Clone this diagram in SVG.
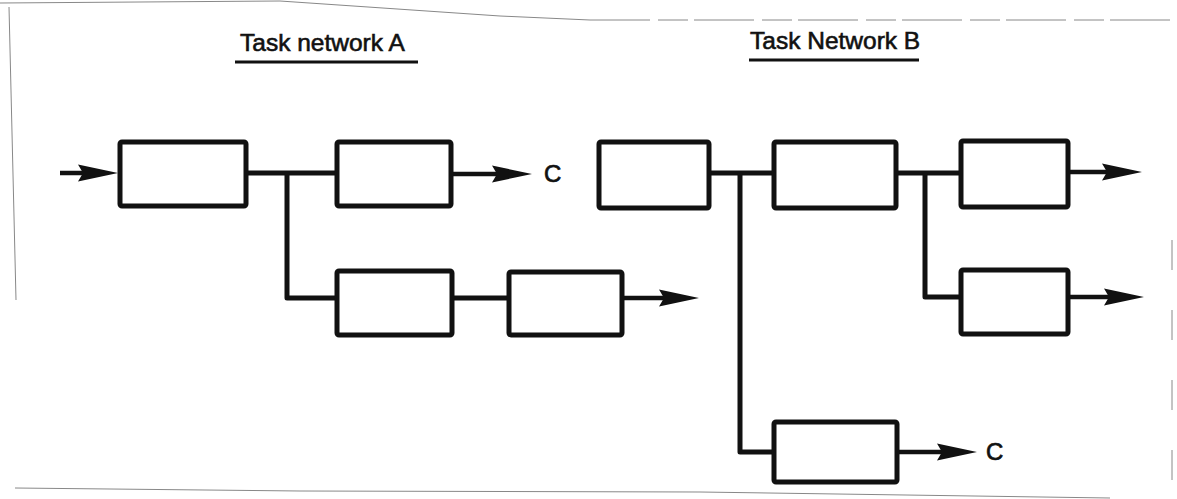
<svg xmlns="http://www.w3.org/2000/svg" width="1177" height="499" viewBox="0 0 1177 499">
<style>
.box{fill:#fff;stroke:#111;stroke-width:5;}
.conn{fill:none;stroke:#111;stroke-width:5;stroke-linejoin:round;}
.arr{fill:none;stroke:#111;stroke-width:4.5;marker-end:url(#ah);}
.frame{fill:none;stroke:#888;stroke-width:1;}
.title{font-family:"Liberation Sans",Arial,sans-serif;font-size:24.5px;fill:#111;stroke:#111;stroke-width:0.6;}
.lbl{font-family:"Liberation Sans",Arial,sans-serif;font-size:24px;fill:#111;stroke:#111;stroke-width:0.7;}
.ul{stroke:#111;stroke-width:3;}
</style>
<defs>
<marker id="ah" markerUnits="userSpaceOnUse" markerWidth="44" markerHeight="20" viewBox="0 -10 44 20" refX="15" refY="0" orient="auto" overflow="visible">
<path d="M0,-8.5 L40,0 L0,8.5 L5,0 Z" fill="#111"/>
</marker>
</defs>
<rect width="1177" height="499" fill="#fff"/>
<g id="frame">
<polyline class="frame" points="0,3 280,1 500,16 590,20"/>
<line class="frame" x1="590" y1="20" x2="1172" y2="20" stroke="#aaa" stroke-dasharray="60,8,30,6"/>
<line class="frame" x1="9" y1="7" x2="16" y2="300" stroke="#444"/>
<line class="frame" x1="1172" y1="240" x2="1172" y2="480" stroke-dasharray="30,40" stroke="#ddd"/>
<polyline class="frame" points="15,488 300,491 700,492 1110,498"/>
</g>
<g id="titles">
<text class="title" x="240" y="51">Task network A</text>
<line class="ul" x1="235" y1="62" x2="418" y2="62"/>
<text class="title" x="750" y="49">Task Network B</text>
<line class="ul" x1="749" y1="60" x2="919" y2="60"/>
</g>
<g id="connectors">
<line class="arr" x1="60" y1="173" x2="93" y2="173"/>
<line class="conn" x1="248" y1="173" x2="335" y2="173"/>
<path class="conn" d="M287,173 V298 H335"/>
<line class="conn" x1="454" y1="298" x2="507" y2="298"/>
<line class="arr" x1="624" y1="298" x2="674" y2="298"/>
<line class="arr" x1="453" y1="174" x2="507" y2="174"/>
<line class="conn" x1="711" y1="173" x2="772" y2="173"/>
<path class="conn" d="M740,173 V452 H772"/>
<line class="conn" x1="898" y1="173" x2="959" y2="173"/>
<path class="conn" d="M925,173 V297 H959"/>
<line class="arr" x1="1070" y1="172" x2="1117" y2="172"/>
<line class="arr" x1="1070" y1="297" x2="1119" y2="297"/>
<line class="arr" x1="899" y1="452" x2="952" y2="452"/>
</g>
<g id="A1"><rect class="box" x="120" y="142" width="126" height="64" rx="2"/></g>
<g id="A2"><rect class="box" x="337" y="142" width="114" height="64" rx="2"/></g>
<g id="A3"><rect class="box" x="337" y="271" width="115" height="64" rx="2"/></g>
<g id="A4"><rect class="box" x="509" y="272" width="113" height="63" rx="2"/></g>
<g id="B1"><rect class="box" x="599" y="142" width="110" height="66" rx="2"/></g>
<g id="B2"><rect class="box" x="774" y="142" width="122" height="66" rx="2"/></g>
<g id="B3"><rect class="box" x="961" y="141" width="107" height="66" rx="2"/></g>
<g id="B4"><rect class="box" x="961" y="270" width="107" height="64" rx="2"/></g>
<g id="B5"><rect class="box" x="774" y="422" width="123" height="60" rx="2"/></g>
<g id="labels">
<text class="lbl" x="544" y="182">C</text>
<text class="lbl" x="986" y="460">C</text>
</g>
</svg>
